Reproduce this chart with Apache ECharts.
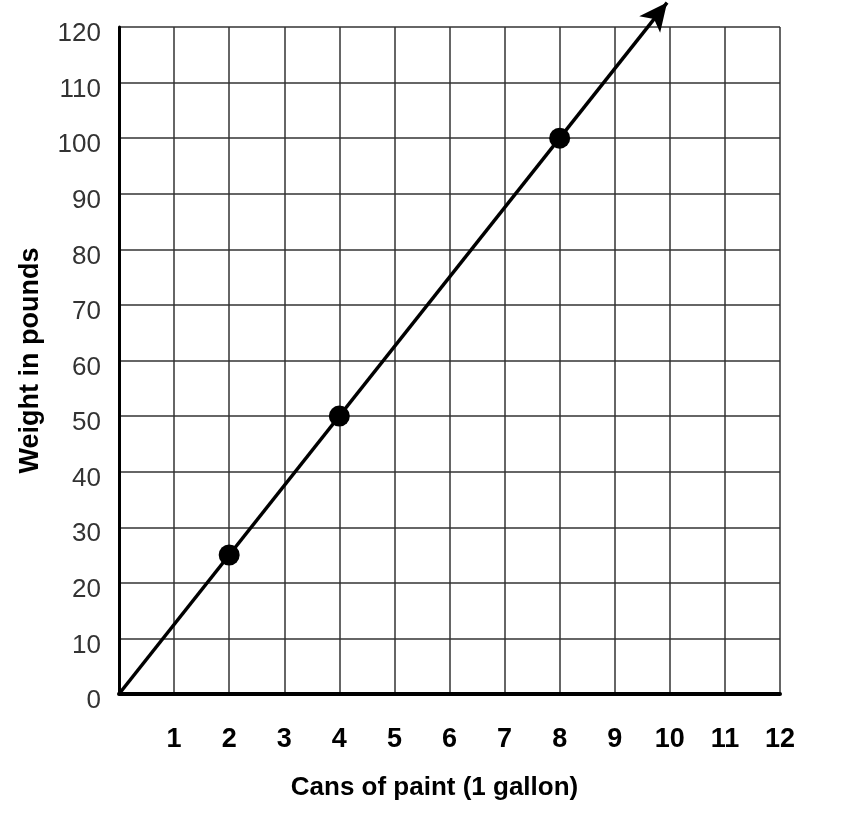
<!DOCTYPE html>
<html>
<head>
<meta charset="utf-8">
<script src="https://cdn.jsdelivr.net/npm/echarts@6/dist/echarts.min.js"></script>
<style>
  html, body { margin: 0; padding: 0; background: #fff; }
  #chart { width: 844px; height: 824px; }
</style>
</head>
<body>
<div id="chart"></div>
<script>
// values
const cans = [2, 4, 8];
const weights = [25, 50, 100];
const lineStart = [0, 0];
const lineEnd = [9.95, 124.4];
const xTicks = [1, 2, 3, 4, 5, 6, 7, 8, 9, 10, 11, 12];

const chart = echarts.init(document.getElementById('chart'));

const points = cans.map((c, i) => [c, weights[i]]);

const buildOption = (arrowRotate) => ({
  animation: false,
  grid: { left: 119, top: 27, right: 64, bottom: 130 },
  xAxis: {
    type: 'value',
    min: 0,
    max: 12,
    interval: 1,
    name: 'Cans of paint (1 gallon)',
    nameLocation: 'middle',
    nameGap: 81,
    nameTextStyle: {
      fontFamily: 'Liberation Sans',
      fontWeight: 'bold',
      fontSize: 26,
      color: '#000',
      padding: [0, 30, 0, 0]
    },
    axisLine: { show: true, onZero: false, lineStyle: { color: '#000', width: 4 } },
    axisTick: { show: false },
    axisLabel: {
      margin: 32,
      fontFamily: 'Liberation Sans',
      fontWeight: 'bold',
      fontSize: 27,
      color: '#000',
      formatter: v => (xTicks.includes(v) ? String(v) : '')
    },
    splitLine: { show: true, lineStyle: { color: '#333', width: 1.5 } }
  },
  yAxis: {
    type: 'value',
    min: 0,
    max: 120,
    interval: 10,
    name: 'Weight in pounds',
    nameLocation: 'middle',
    nameGap: 75,
    nameTextStyle: { fontFamily: 'Liberation Sans', fontWeight: 'bold', fontSize: 27, color: '#000' },
    axisLine: { show: true, lineStyle: { color: '#000', width: 3 } },
    axisTick: { show: false },
    axisLabel: {
      margin: 18,
      formatter: v => '{a|' + v + '}',
      rich: {
        a: {
          fontFamily: 'Liberation Sans',
          fontSize: 26,
          color: '#333',
          padding: [14, 0, 0, 0]
        }
      }
    },
    splitLine: { show: true, lineStyle: { color: '#333', width: 1.5 } }
  },
  series: [
    {
      type: 'line',
      clip: false,
      data: [
        { value: lineStart, symbol: 'none' },
        { value: lineEnd, symbol: 'arrow', symbolSize: [20, 28], symbolRotate: arrowRotate }
      ],
      showAllSymbol: true,
      itemStyle: { color: '#000', opacity: 1 },
      lineStyle: { color: '#000', width: 3.5 },
      z: 4
    },
    {
      type: 'scatter',
      data: points,
      symbol: 'circle',
      symbolSize: 21,
      itemStyle: { color: '#000', opacity: 1 },
      z: 5
    }
  ]
});

chart.setOption(buildOption(0));
// turn the arrow head along the drawn line
const p0 = chart.convertToPixel({ gridIndex: 0 }, lineStart);
const p1 = chart.convertToPixel({ gridIndex: 0 }, lineEnd);
const angle = Math.atan2(p1[0] - p0[0], p0[1] - p1[1]) * 180 / Math.PI;
chart.setOption(buildOption(-angle));
</script>
</body>
</html>
